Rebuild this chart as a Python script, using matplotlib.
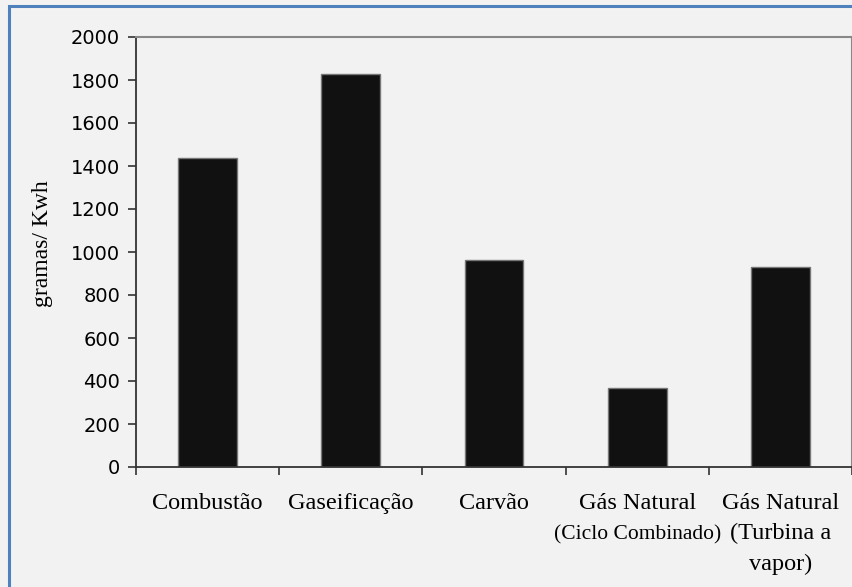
import matplotlib
matplotlib.use('Agg')
import matplotlib.pyplot as plt
from matplotlib.patches import Rectangle

categories = [
    'Combustão',
    'Gaseificação',
    'Carvão',
    'Gás Natural\n(Ciclo Combinado)',
    'Gás Natural\n(Turbina a\nvapor)'
]
values = [1435, 1830, 963, 366, 928]
yticks = [0, 200, 400, 600, 800, 1000, 1200, 1400, 1600, 1800, 2000]

bg = '#f2f2f2'
serif = 'Liberation Serif'

fig = plt.figure(figsize=(8.53, 5.87), dpi=100, facecolor=bg)
# blue frame around the chart area (runs off the right/bottom edge)
fig.patches.append(Rectangle((9 / 853, -0.05), 1.2, 1 - 6 / 587 + 0.05,
                             transform=fig.transFigure, fill=False,
                             edgecolor='#4f81bd', linewidth=2.2, zorder=0))

ax = fig.add_axes([136 / 853, 1 - 467 / 587, 716 / 853, 430 / 587])
ax.set_facecolor(bg)

x = range(len(categories))
ax.bar(x, values, width=0.41, color='#111111', edgecolor='#777777', linewidth=1)

ax.set_xlim(-0.5, 4.5)
ax.set_ylim(0, 2000)
ax.set_yticks(yticks)
ax.set_yticklabels([str(v) for v in yticks], fontsize=14, family='DejaVu Sans')

# the "(Ciclo Combinado)" line is squeezed in the original, so draw it apart
labels = []
extra = []
for i, c in enumerate(categories):
    if 'Ciclo' in c:
        first, rest = c.split('\n', 1)
        labels.append(first)
        extra.append((i, rest))
    else:
        labels.append(c)

ax.set_xticks(list(x))
ax.set_xticklabels(labels, fontsize=17.5, family=serif, linespacing=1.55, va='top')
for i, txt in extra:
    ax.text(i, -72 / 430, txt, transform=ax.get_xaxis_transform(), ha='center',
            va='baseline', fontsize=15.5, family=serif)

ax.tick_params(axis='x', which='major', length=0, pad=19)
ax.set_xticks([i - 0.5 for i in range(len(categories) + 1)], minor=True)
ax.tick_params(axis='x', which='minor', length=6, width=1.2, color='#333333')
ax.tick_params(axis='y', length=6, width=1.2, color='#333333', pad=5.5)

ax.set_ylabel('gramas/ Kwh', fontsize=17, family=serif)
ax.yaxis.set_label_coords(-0.116, 0.52)

for side in ['left', 'bottom']:
    ax.spines[side].set_color('#333333')
    ax.spines[side].set_linewidth(1.3)
for side in ['top', 'right']:
    ax.spines[side].set_color('#888888')
    ax.spines[side].set_linewidth(1.5)

plt.savefig('out.png', dpi=100, facecolor=bg)
